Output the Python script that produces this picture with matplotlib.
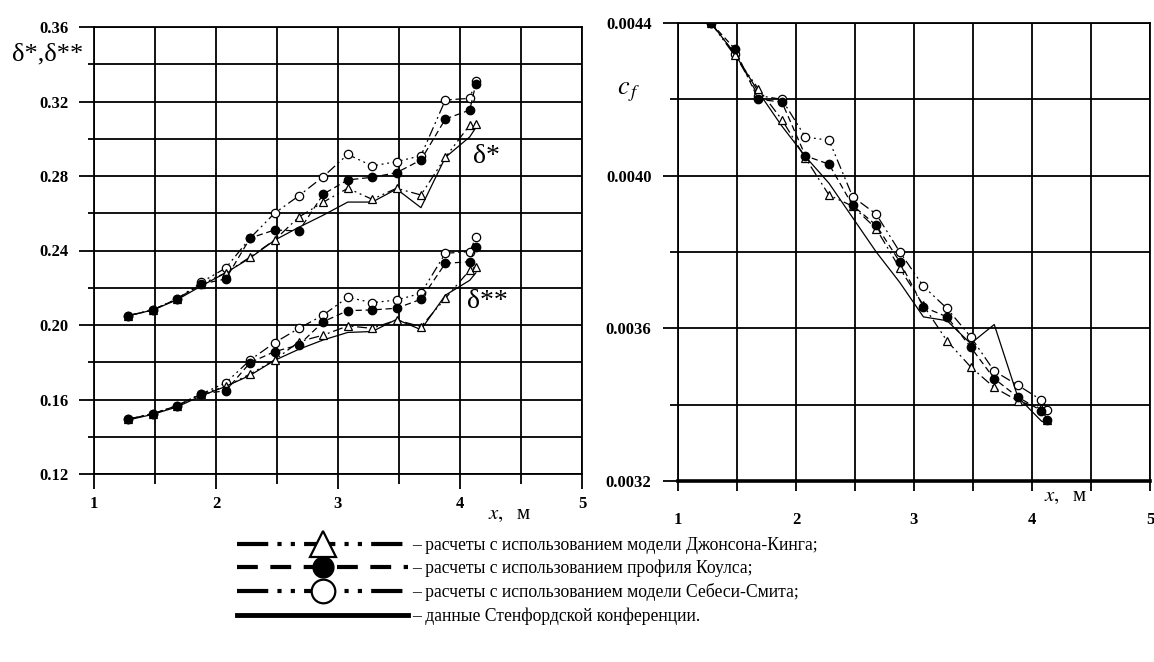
import matplotlib
matplotlib.use('Agg')
import matplotlib.pyplot as plt
from matplotlib.lines import Line2D
import numpy as np

plt.rcParams['font.family'] = ['Liberation Serif', 'DejaVu Serif']
plt.rcParams['mathtext.fontset'] = 'stix'

# x positions of the stations, m
x = [1.28, 1.48, 1.68, 1.88, 2.08, 2.28, 2.48, 2.68, 2.88, 3.08, 3.28, 3.48, 3.68, 3.88, 4.08, 4.13]

# displacement thickness delta*
d1_jk = [0.205, 0.208, 0.214, 0.222, 0.228, 0.2365, 0.2456, 0.258, 0.266, 0.2734, 0.2675, 0.2734, 0.2698, 0.290, 0.3074, 0.308]
d1_coles = [0.205, 0.208, 0.214, 0.222, 0.2247, 0.2467, 0.251, 0.2505, 0.2703, 0.2779, 0.2793, 0.2818, 0.2886, 0.3106, 0.3154, 0.3295]
d1_cs = [0.205, 0.208, 0.214, 0.223, 0.2306, 0.2467, 0.260, 0.2694, 0.2797, 0.2916, 0.2854, 0.2877, 0.2909, 0.3208, 0.3217, 0.331]
d1_stanford = [0.205, 0.208, 0.2135, 0.221, 0.228, 0.236, 0.2455, 0.2525, 0.259, 0.266, 0.266, 0.273, 0.263, 0.290, 0.301, 0.306]

# momentum thickness delta**
d2_jk = [0.1495, 0.1522, 0.1567, 0.163, 0.167, 0.1737, 0.1812, 0.191, 0.1946, 0.1995, 0.1982, 0.2027, 0.1991, 0.2143, 0.2295, 0.2313]
d2_coles = [0.1495, 0.1522, 0.1567, 0.163, 0.1647, 0.1798, 0.1857, 0.1893, 0.2018, 0.2077, 0.2081, 0.209, 0.2138, 0.2331, 0.234, 0.242]
d2_cs = [0.1495, 0.1522, 0.1567, 0.163, 0.169, 0.1812, 0.1905, 0.1982, 0.2054, 0.2149, 0.212, 0.2134, 0.217, 0.2385, 0.2394, 0.2471]
d2_stanford = [0.149, 0.152, 0.156, 0.162, 0.167, 0.173, 0.181, 0.187, 0.192, 0.196, 0.1965, 0.203, 0.1975, 0.216, 0.224, 0.228]

# skin friction coefficient
cf_jk = [0.0044, 0.004315, 0.004228, 0.004147, 0.004046, 0.003949, 0.00392, 0.003861, 0.003757, 0.00366, 0.003567, 0.003499, 0.003445, 0.00341, 0.00339, 0.00336]
cf_coles = [0.0044, 0.004333, 0.0042, 0.004193, 0.004052, 0.00403, 0.003922, 0.00387, 0.003774, 0.003656, 0.00363, 0.003551, 0.003468, 0.00342, 0.003384, 0.003361]
cf_cs = [0.0044, 0.00432, 0.00421, 0.0042, 0.004101, 0.004093, 0.003945, 0.003899, 0.0038, 0.00371, 0.003652, 0.003578, 0.003488, 0.003451, 0.003412, 0.003387]
cf_stanford = [0.0044, 0.00432, 0.00422, 0.00413, 0.00405, 0.00398, 0.00389, 0.0038, 0.00372, 0.00363, 0.00362, 0.00356, 0.00361, 0.00342, 0.003357, 0.00335]

legend_labels = [
    '– расчеты с использованием модели Джонсона-Кинга;',
    '– расчеты с использованием профиля Коулса;',
    '– расчеты с использованием модели Себеси-Смита;',
    '– данные Стенфордской конференции.',
]

dashdotdot = (0, (8, 3, 1.5, 3, 1.5, 3))
dashed = (0, (5, 3))
lw = 0.9
tick_font = dict(family='Liberation Serif', weight='bold', size=12)


def draw_set(ax, jk, coles, cs, stanford):
    ax.plot(x, stanford, color='black', lw=lw, zorder=3)
    ax.plot(x, cs, color='black', lw=lw, ls=dashdotdot, marker='o', ms=6,
            mfc='white', mec='black', mew=0.9, zorder=4)
    ax.plot(x, jk, color='black', lw=lw, ls=dashdotdot, marker='^', ms=5.5,
            mfc='white', mec='black', mew=0.9, zorder=5)
    ax.plot(x, coles, color='black', lw=lw, ls=dashed, marker='o', ms=6,
            mfc='black', mec='black', zorder=6)


def setup(ax, ylim, major, minor, fmt, ymaj_len, ymin_len, xmaj_len, xmin_len, xpad):
    ax.set_xlim(1, 5)
    ax.set_ylim(*ylim)
    ax.set_xticks([1, 2, 3, 4, 5])
    ax.set_xticks([1.5, 2.5, 3.5, 4.5], minor=True)
    ax.set_yticks(major)
    ax.set_yticks(minor, minor=True)
    ax.set_yticklabels([fmt % v for v in major], fontdict=tick_font)
    ax.set_xticklabels(['1', '2', '3', '4', '5'], fontdict=tick_font)
    ax.grid(True, which='both', color='black', lw=1.3, zorder=1)
    for s in ax.spines.values():
        s.set_linewidth(1.3)
    ax.tick_params(axis='y', which='major', length=ymaj_len, width=1.3, pad=8)
    ax.tick_params(axis='y', which='minor', length=ymin_len, width=1.3)
    ax.tick_params(axis='x', which='major', length=xmaj_len, width=1.3, pad=xpad)
    ax.tick_params(axis='x', which='minor', length=xmin_len, width=1.3)
    ax.set_axisbelow(True)


fig = plt.figure(figsize=(11.54, 6.62), dpi=100)

W, H = 1154, 662
ax1 = fig.add_axes([94 / W, 1 - 474 / H, 488 / W, 447 / H])
ax2 = fig.add_axes([678 / W, 1 - 481 / H, 472 / W, 458 / H])

setup(ax1, (0.12, 0.36), np.arange(0.12, 0.361, 0.04), np.arange(0.14, 0.35, 0.04),
      '%.2f', 10.5, 4.5, 10.5, 7, 5)
setup(ax2, (0.0032, 0.0044), [0.0032, 0.0036, 0.0040, 0.0044], [0.0034, 0.0038, 0.0042],
      '%.4f', 11, 6, 7, 7, 15)
ax2.spines['bottom'].set_linewidth(2.6)

draw_set(ax1, d1_jk, d1_coles, d1_cs, d1_stanford)
draw_set(ax1, d2_jk, d2_coles, d2_cs, d2_stanford)
draw_set(ax2, cf_jk, cf_coles, cf_cs, cf_stanford)

ax1.text(4.11, 0.2905, 'δ*', fontsize=20, ha='left', va='center')
ax1.text(4.06, 0.2125, 'δ**', fontsize=20, ha='left', va='center')

# axis captions
fig.text(12 / W, 1 - 54 / H, 'δ*,δ**', fontsize=19, ha='left', va='center')
fig.text(617 / W, 1 - 92 / H, r'$c_{\,f}$', fontsize=19, ha='left', va='center')
fig.text(510 / W, 1 - 514 / H, r'$x,$  м', fontsize=15, ha='center', va='center')
fig.text(1066 / W, 1 - 497 / H, r'$x,$  м', fontsize=15, ha='center', va='center')

# legend under the plots
handles = [
    Line2D([], [], color='black', lw=3, ls=(0, (7.5, 2.2, 1, 2.2, 1, 2.2)),
           marker='^', ms=19, mfc='white', mec='black', mew=1.6),
    Line2D([], [], color='black', lw=3, ls=(0, (5, 3)),
           marker='o', ms=15, mfc='black', mec='black'),
    Line2D([], [], color='black', lw=3, ls=(0, (7.5, 2.2, 1, 2.2, 1, 2.2)),
           marker='o', ms=17, mfc='white', mec='black', mew=1.6),
    Line2D([], [], color='black', lw=3.5),
]
fig.legend(handles, legend_labels, loc='upper left', bbox_to_anchor=(237 / W, 1 - 537 / H),
           frameon=False, fontsize=12.7, handlelength=9.7, handletextpad=0.2,
           labelspacing=0.34, borderpad=0, borderaxespad=0, numpoints=1)

fig.savefig('out.png', dpi=100)
